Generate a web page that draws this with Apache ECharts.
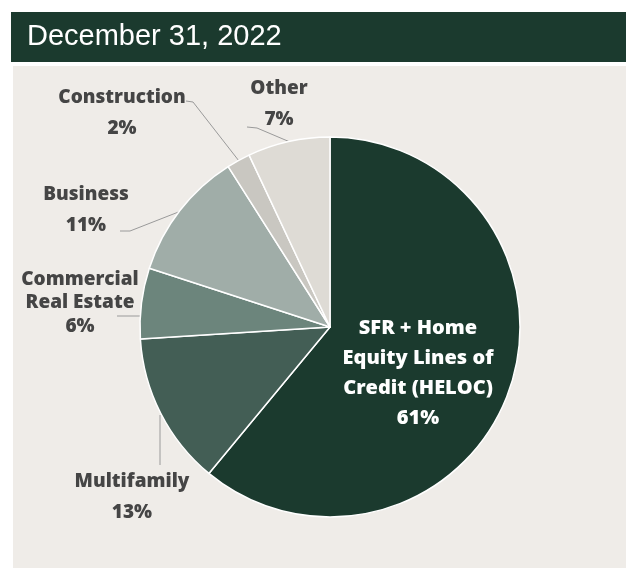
<!DOCTYPE html>
<html>
<head>
<meta charset="utf-8">
<script src="https://cdn.jsdelivr.net/npm/echarts@6/dist/echarts.min.js"></script>
<style>html,body{margin:0;padding:0;background:#ffffff;}#c{width:640px;height:580px;}</style>
</head>
<body>
<div id="c"></div>
<script>
var title = 'December 31, 2022';
var categories = ['SFR + Home\nEquity Lines of\nCredit (HELOC)', 'Multifamily', 'Commercial\nReal Estate', 'Business', 'Construction', 'Other'];
var values = [61, 13, 6, 11, 2, 7];
var colors = ['#1b3a2e', '#435e55', '#6c857c', '#a0ada8', '#c9c7c1', '#dedbd5'];

// label placement (style only)
var labelPos = [
  {x: 418, y: 373, lh: 30, fs: 20, color: '#ffffff', line: null},
  {x: 132, y: 497, lh: 31, fs: 19, color: '#454545', line: [[160, 465], [160, 440], [160, 415]]},
  {x: 80, y: 303, lh: 23.5, fs: 19, color: '#454545', line: [[117, 316], [128, 316], [141, 316]]},
  {x: 86, y: 210, lh: 31, fs: 19, color: '#454545', line: [[120, 231], [130, 231], [181, 211]]},
  {x: 122, y: 113, lh: 31, fs: 19, color: '#454545', line: [[186, 101], [193, 102], [239, 161]]},
  {x: 279, y: 104, lh: 31, fs: 19, color: '#454545', line: [[247, 127], [257, 128], [290, 142]]}
];

var data = categories.map(function (n, i) {
  return {
    name: n,
    value: values[i],
    itemStyle: {color: colors[i]},
    label: {color: labelPos[i].color, lineHeight: labelPos[i].lh, fontSize: labelPos[i].fs},
    labelLine: {show: !!labelPos[i].line}
  };
});

var chart = echarts.init(document.getElementById('c'), null, {renderer: 'canvas'});
chart.setOption({
  animation: false,
  backgroundColor: '#ffffff',
  graphic: [
    {type: 'rect', shape: {x: 13, y: 66, width: 613, height: 502}, style: {fill: '#efece8'}, z: -10},
    {type: 'rect', shape: {x: 11, y: 12, width: 615, height: 50}, style: {fill: '#1b3a2e'}, z: -10},
    {type: 'text', left: 27, top: 22, style: {text: title, fill: '#ffffff', font: '29px "Liberation Sans", Arial, sans-serif'}, z: 10}
  ],
  series: [{
    type: 'pie',
    center: [330, 327],
    radius: [0, 190],
    startAngle: 90,
    clockwise: true,
    avoidLabelOverlap: false,
    itemStyle: {borderColor: '#ffffff', borderWidth: 1.5},
    label: {
      show: true,
      formatter: '{b}\n{c}%',
      fontFamily: '"Open Sans", sans-serif',
      fontWeight: 800,
      fontSize: 19,
      align: 'center'
    },
    labelLine: {lineStyle: {color: '#9a9a9a', width: 1}},
    labelLayout: function (p) {
      var lp = labelPos[p.dataIndex];
      var r = {x: lp.x, y: lp.y, align: 'center', verticalAlign: 'middle'};
      if (lp.line) r.labelLinePoints = lp.line;
      return r;
    },
    data: data
  }]
});
</script>
</body>
</html>
